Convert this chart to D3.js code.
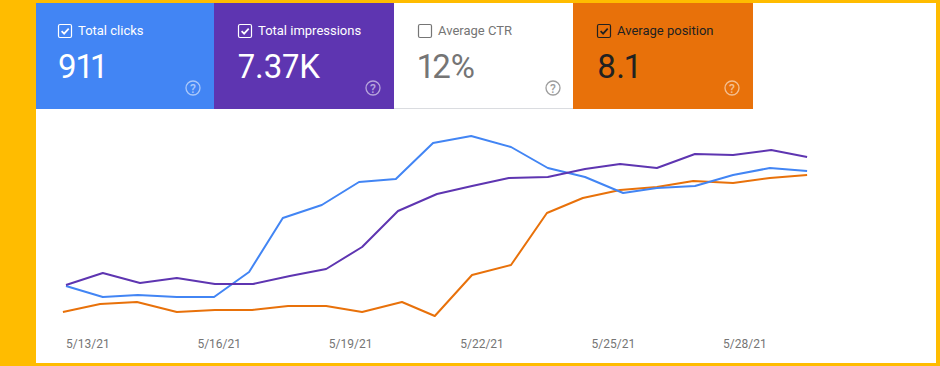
<!DOCTYPE html>
<html lang="en">
<head>
<meta charset="UTF-8">
<script src="https://d3js.org/d3.v7.min.js"></script>
<title>Search performance</title>
<style>
  html, body { margin: 0; padding: 0; background: #ffbc00; }
  svg { display: block; font-family: Roboto, sans-serif; }
  .line { fill: none; stroke-width: 2; stroke-linejoin: round; }
  .axis text { font-size: 12px; fill: #757575; font-family: Roboto, sans-serif; text-anchor: start; }
  .axis path, .axis line { display: none; }
  .big { font-variant-numeric: proportional-nums; }
</style>
</head>
<body>
<script>
// card data
var cardLabels = ["Total clicks", "Total impressions", "Average CTR", "Average position"];
var cardValues = ["911", "7.37K", "12%", "8.1"];
var cardChecked = [true, true, false, true];

// x axis, in day of May
var tickDays = [13, 16, 19, 22, 25, 28];
var tickLabels = ["5/13/21", "5/16/21", "5/19/21", "5/22/21", "5/25/21", "5/28/21"];

// sample positions (they are not evenly spaced)
var clicksDays = [13, 13.84, 14.64, 15.53, 16.38, 17.18, 17.95, 18.84, 19.69, 20.53, 21.38, 22.25, 23.16, 24, 24.85, 25.72, 26.49, 27.36, 28.23, 29.07, 29.92];
var impressionsDays = [13, 13.84, 14.69, 15.53, 16.4, 17.27, 18.11, 18.94, 19.76, 20.58, 21.47, 22.27, 23.11, 24, 24.85, 25.65, 26.49, 27.36, 28.23, 29.1, 29.92];
var positionDays = [12.93, 13.78, 14.62, 15.53, 16.4, 17.25, 18.07, 18.94, 19.76, 20.67, 21.42, 22.27, 23.16, 23.98, 24.8, 25.65, 26.49, 27.32, 28.23, 29.07, 29.92];

// the y axes are hidden in the reference, so values are on a relative 0-210 scale
var clicks = [44, 33, 35, 33, 33, 58, 112, 125, 148, 151, 187, 194, 183, 162, 153, 137, 142, 144, 155, 162, 159];
var impressions = [45, 57, 47, 52, 46, 46, 54, 61, 83, 119, 136, 144, 152, 153, 161, 166, 162, 176, 175, 180, 173];
var position = [18, 26, 28, 18, 20, 20, 24, 24, 18, 28, 14, 55, 65, 117, 132, 140, 143, 149, 147, 152, 155];

var width = 940, height = 366;
var blue = "#4285f4", purple = "#5e35b1", orange = "#e8710a";

var svg = d3.select("body").append("svg")
    .attr("width", width)
    .attr("height", height);

// white panel on the yellow frame
svg.append("rect")
    .attr("x", 36).attr("y", 3)
    .attr("width", 900).attr("height", 360)
    .attr("fill", "#fff");

// first card runs under the yellow frame on its left side
var cardLeft = [34, 214, 394, 573];
var cardRight = [214, 394, 573, 753];
var cardFill = [blue, purple, "#fff", orange];
var cardText = ["#fff", "#fff", "#757575", "#212121"];

svg.append("rect")
    .attr("x", 394).attr("y", 108)
    .attr("width", 179).attr("height", 1)
    .attr("fill", "#dadce0");

var cards = svg.selectAll("g.card")
    .data(cardLabels)
    .enter().append("g")
    .attr("class", "card")
    .attr("transform", function (d, i) { return "translate(" + cardLeft[i] + ",3)"; });

cards.append("rect")
    .attr("x", function (d, i) { return i == 0 ? 2 : 0; })
    .attr("width", function (d, i) { return cardRight[i] - cardLeft[i] - (i == 0 ? 2 : 0); })
    .attr("height", function (d, i) { return i == 2 ? 105 : 106; })
    .attr("fill", function (d, i) { return cardFill[i]; });

// checkbox
cards.append("rect")
    .attr("x", 24.5).attr("y", 21.5)
    .attr("width", 13).attr("height", 13).attr("rx", 1.5)
    .attr("fill", "none")
    .attr("stroke", function (d, i) { return cardText[i]; })
    .attr("stroke-width", 1.2);

cards.filter(function (d, i) { return cardChecked[i]; })
    .append("path")
    .attr("d", "M27.6 28.2l2.5 2.5l4.6-5")
    .attr("fill", "none")
    .attr("stroke", function (d) { return cardText[cardLabels.indexOf(d)]; })
    .attr("stroke-width", 1.7);

cards.append("text")
    .attr("x", 44).attr("y", 32)
    .attr("font-size", 13)
    .attr("fill", function (d, i) { return cardText[i]; })
    .text(function (d) { return d; });

cards.append("text")
    .attr("class", "big")
    .attr("x", 24).attr("y", 74.5)
    .attr("font-size", 33)
    .attr("fill", function (d, i) { return cardText[i]; })
    .text(function (d, i) { return cardValues[i]; });

// help icon
var help = cards.append("g")
    .attr("transform", "translate(159,85)")
    .attr("opacity", function (d, i) { return i == 2 ? 0.7 : 0.55; });
help.append("circle")
    .attr("r", 7)
    .attr("fill", "none")
    .attr("stroke", function (d, i) { return i == 2 ? "#757575" : "#fff"; })
    .attr("stroke-width", 1.3);
help.append("text")
    .attr("text-anchor", "middle")
    .attr("y", 4.5)
    .attr("font-size", 12)
    .attr("font-weight", 500)
    .attr("fill", function (d, i) { return i == 2 ? "#757575" : "#fff"; })
    .text("?");

// chart
var x = d3.scaleLinear().domain([13, 30]).range([66, 810.6]);
var y = d3.scaleLinear().domain([0, 210]).range([330, 120]);

var line = d3.line()
    .x(function (d) { return x(d[0]); })
    .y(function (d) { return y(d[1]); });

svg.append("path").attr("class", "line").attr("stroke", orange).attr("d", line(d3.zip(positionDays, position)));
svg.append("path").attr("class", "line").attr("stroke", blue).attr("d", line(d3.zip(clicksDays, clicks)));
svg.append("path").attr("class", "line").attr("stroke", purple).attr("d", line(d3.zip(impressionsDays, impressions)));

svg.append("g")
    .attr("class", "axis")
    .attr("transform", "translate(-0.5,336)")
    .call(d3.axisBottom(x)
        .tickValues(tickDays)
        .tickFormat(function (d, i) { return tickLabels[i]; })
        .tickSize(0));
</script>
</body>
</html>
